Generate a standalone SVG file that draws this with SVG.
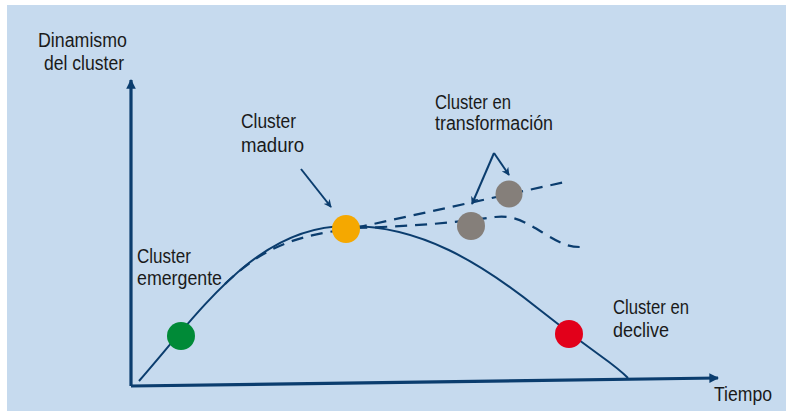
<svg xmlns="http://www.w3.org/2000/svg" width="792" height="415" viewBox="0 0 792 415">
<defs>
<style>
.lbl{font-family:"Liberation Sans",Arial,sans-serif;font-size:19.5px;fill:#1a1a1a}
.ax{fill:none;stroke:#0b3d6e;stroke-width:3.2}
.crv{fill:none;stroke:#0b3d6e;stroke-width:2}
.dash{fill:none;stroke:#0b3d6e;stroke-width:2.2;stroke-dasharray:12 8}
.arr{fill:none;stroke:#0b3d6e;stroke-width:2}
</style>
<marker id="ah" viewBox="0 0 10 10" refX="9" refY="5" markerWidth="4" markerHeight="4" orient="auto" markerUnits="strokeWidth">
<path d="M0,0 L10,5 L0,10 L3,5 Z" fill="#0b3d6e"/>
</marker>
<marker id="axh" viewBox="0 0 10 10" refX="9" refY="5" markerWidth="3" markerHeight="3" orient="auto" markerUnits="strokeWidth">
<path d="M0,0 L10,5 L0,10 Z" fill="#0b3d6e"/>
</marker>
</defs>
<rect x="7" y="5" width="779" height="406" fill="#c6daee"/>
<g id="connectors">
<path class="ax" d="M131,386 L131,80" marker-end="url(#axh)"/>
<path class="ax" d="M131,386 L718,378" marker-end="url(#axh)"/>
<path class="crv" d="M139,381 C205,305 260,224 350,226 C420,226 480,262 540,310 S610,360 628,378"/>
<path class="dash" d="M225,284 C260,250 290,238 335,231"/>
<path class="dash" d="M355,228 L565,182"/>
<path class="dash" d="M355,228 C420,226 460,222 495,217 C515,215 525,222 545,234 C560,243 568,247 580,247"/>
<path class="arr" d="M301,169 L331,207" marker-end="url(#ah)"/>
<path class="arr" d="M494,153 L472,204" marker-end="url(#ah)"/>
<path class="arr" d="M494,153 L509,175" marker-end="url(#ah)"/>
</g>
<g id="emergente">
<circle cx="181" cy="336" r="14" fill="#008a37"/>
<text class="lbl" x="137" y="263" textLength="54" lengthAdjust="spacingAndGlyphs">Cluster</text>
<text class="lbl" x="137" y="285" textLength="85" lengthAdjust="spacingAndGlyphs">emergente</text>
</g>
<g id="maduro">
<circle cx="346" cy="229" r="14" fill="#f5a800"/>
<text class="lbl" x="241" y="128" textLength="55" lengthAdjust="spacingAndGlyphs">Cluster</text>
<text class="lbl" x="241" y="152" textLength="63" lengthAdjust="spacingAndGlyphs">maduro</text>
</g>
<g id="transformacion">
<circle cx="509" cy="194" r="13.5" fill="#857f7a"/>
<circle cx="471" cy="226" r="14" fill="#857f7a"/>
<text class="lbl" x="435" y="109" textLength="76" lengthAdjust="spacingAndGlyphs">Cluster en</text>
<text class="lbl" x="435" y="130" textLength="118" lengthAdjust="spacingAndGlyphs">transformación</text>
</g>
<g id="declive">
<circle cx="569" cy="334" r="14" fill="#e2001a"/>
<text class="lbl" x="613" y="314" textLength="76" lengthAdjust="spacingAndGlyphs">Cluster en</text>
<text class="lbl" x="613" y="337" textLength="56" lengthAdjust="spacingAndGlyphs">declive</text>
</g>
<g id="ylabel">
<text class="lbl" x="38" y="47" textLength="89" lengthAdjust="spacingAndGlyphs">Dinamismo</text>
<text class="lbl" x="44" y="70" textLength="80" lengthAdjust="spacingAndGlyphs">del cluster</text>
</g>
<g id="xlabel">
<text class="lbl" x="714" y="401" textLength="58" lengthAdjust="spacingAndGlyphs">Tiempo</text>
</g>
</svg>
